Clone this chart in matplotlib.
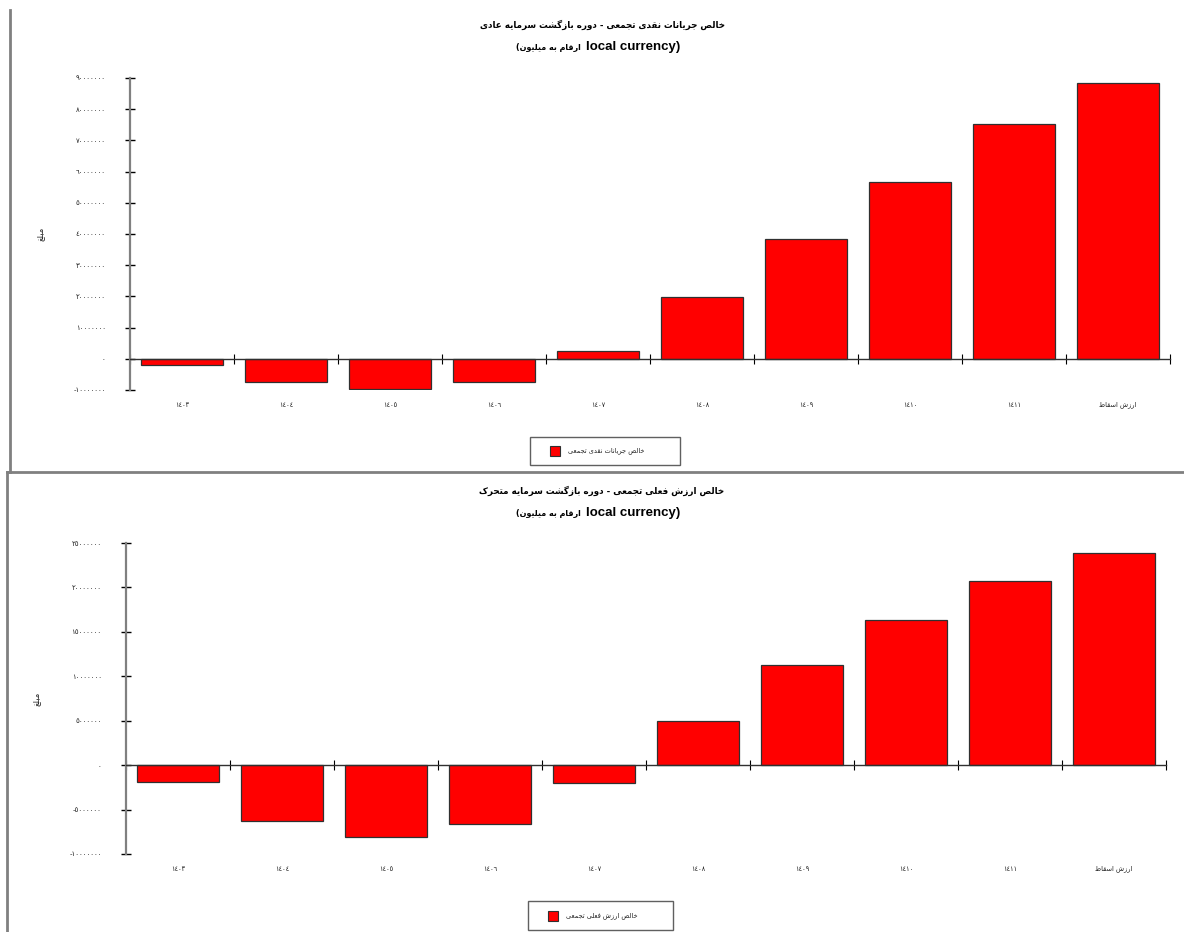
import numpy as np
import matplotlib
matplotlib.use('Agg')
import matplotlib.pyplot as plt
import matplotlib.transforms as mtransforms
from matplotlib.lines import Line2D
from matplotlib.patches import Rectangle

# data (values in local currency)
categories = ['1403', '1404', '1405', '1406', '1407', '1408', '1409', '1410', '1411', 'ارزش اسقاط']
cum_cash_flow = [-1.9e6, -7.3e6, -9.6e6, -7.3e6, 2.5e6, 19.9e6, 38.5e6, 56.7e6, 75.3e6, 88.5e6]
cum_npv = [-1.9e6, -6.3e6, -8.1e6, -6.6e6, -2.0e6, 4.95e6, 11.25e6, 16.3e6, 20.7e6, 23.9e6]

title_top = 'خالص جریانات نقدی تجمعی - دوره بازگشت سرمایه عادی'
title_bottom = 'خالص ارزش فعلی تجمعی - دوره بازگشت سرمایه متحرک'
subtitle_fa = 'ارقام به میلیون'
legend_top = 'خالص جریانات نقدی تجمعی'
legend_bottom = 'خالص ارزش فعلی تجمعی'
ylabel = 'مبلغ'

# simple arabic/persian shaping (matplotlib has no RTL support)
FORMS = {
    'ا': (0xFE8D, 0xFE8E), 'د': (0xFEA9, 0xFEAA), 'ر': (0xFEAD, 0xFEAE),
    'ز': (0xFEAF, 0xFEB0), 'و': (0xFEED, 0xFEEE),
    'ب': (0xFE8F, 0xFE90, 0xFE91, 0xFE92), 'ت': (0xFE95, 0xFE96, 0xFE97, 0xFE98),
    'ج': (0xFE9D, 0xFE9E, 0xFE9F, 0xFEA0), 'ح': (0xFEA1, 0xFEA2, 0xFEA3, 0xFEA4),
    'خ': (0xFEA5, 0xFEA6, 0xFEA7, 0xFEA8), 'س': (0xFEB1, 0xFEB2, 0xFEB3, 0xFEB4),
    'ش': (0xFEB5, 0xFEB6, 0xFEB7, 0xFEB8), 'ص': (0xFEB9, 0xFEBA, 0xFEBB, 0xFEBC),
    'ط': (0xFEC1, 0xFEC2, 0xFEC3, 0xFEC4), 'ع': (0xFEC9, 0xFECA, 0xFECB, 0xFECC),
    'غ': (0xFECD, 0xFECE, 0xFECF, 0xFED0), 'ف': (0xFED1, 0xFED2, 0xFED3, 0xFED4),
    'ق': (0xFED5, 0xFED6, 0xFED7, 0xFED8), 'ل': (0xFEDD, 0xFEDE, 0xFEDF, 0xFEE0),
    'م': (0xFEE1, 0xFEE2, 0xFEE3, 0xFEE4), 'ن': (0xFEE5, 0xFEE6, 0xFEE7, 0xFEE8),
    'ه': (0xFEE9, 0xFEEA, 0xFEEB, 0xFEEC), 'ی': (0xFBFC, 0xFBFD, 0xFBFE, 0xFBFF),
    'ک': (0xFB8E, 0xFB8F, 0xFB90, 0xFB91), 'گ': (0xFB92, 0xFB93, 0xFB94, 0xFB95),
}


def shape(text):
    out = []
    for i, c in enumerate(text):
        if c not in FORMS:
            out.append(c)
            continue
        prev = text[i - 1] if i > 0 else ''
        nxt = text[i + 1] if i + 1 < len(text) else ''
        f = FORMS[c]
        jp = prev in FORMS and len(FORMS[prev]) == 4
        jn = len(f) == 4 and nxt in FORMS
        if jp and jn:
            g = f[3]
        elif jp:
            g = f[1]
        elif jn:
            g = f[2]
        else:
            g = f[0]
        out.append(chr(g))
    return ''.join(out)[::-1]


DIGITS = str.maketrans('0123456789', '٠١٢٣٤٥٦٧٨٩')


def ar_num(v):
    return str(int(round(v))).translate(DIGITS)


def ar_label(s):
    if s.isdigit():
        return s.translate(DIGITS)
    return shape(s)


W, H = 1184, 932
fig = plt.figure(figsize=(W / 100, H / 100), dpi=100)
fig.patch.set_facecolor('white')


def fx(px):
    return px / W


def fy(py):
    return 1 - py / H


def panel(rect, values, yticks, title, legend_text, title_y, legend_box):
    ax = fig.add_axes(rect)
    x = np.arange(len(values))
    ax.bar(x, values, width=0.79, color='#ff0000', edgecolor='#303030', linewidth=0.9, zorder=2)
    ax.set_xlim(-0.5, len(values) - 0.5)
    ax.set_ylim(yticks[0], yticks[-1])
    ax.set_yticks(yticks)
    ax.set_yticklabels([ar_num(t) for t in yticks], fontsize=5, color='#222222')
    ax.tick_params(axis='y', direction='inout', length=7, width=1, color='black', pad=14)
    ax.set_xticks(np.arange(-0.5, len(values), 1))
    ax.set_xticklabels([])
    ax.tick_params(axis='x', direction='inout', length=7, width=0.8, color='black')
    for s in ['top', 'right']:
        ax.spines[s].set_visible(False)
    ax.spines['left'].set_color('#808080')
    ax.spines['left'].set_linewidth(1.6)
    ax.spines['bottom'].set_position(('data', 0))
    ax.spines['bottom'].set_color('#303030')
    ax.spines['bottom'].set_linewidth(1.0)
    ax.spines['bottom'].set_zorder(3)

    trans = mtransforms.blended_transform_factory(ax.transData, ax.transAxes)
    for i, c in enumerate(categories):
        ax.text(i, -0.048, ar_label(c), transform=trans, ha='center', va='center',
                fontsize=4.8, color='#222222')
    ax.text(-0.086, 0.5, shape(ylabel), transform=ax.transAxes, rotation=90,
            ha='center', va='center', fontsize=6, color='#222222')

    fig.text(fx(602), fy(title_y), shape(title), ha='center', va='center',
             fontsize=6.3, fontweight='bold', family='DejaVu Sans')
    fig.text(fx(581), fy(title_y + 22), '(' + shape(subtitle_fa), ha='right', va='center',
             fontsize=5.8, fontweight='bold', family='DejaVu Sans')
    fig.text(fx(586), fy(title_y + 22), 'local currency)', ha='left', va='center',
             fontsize=9.5, fontweight='bold', family='Liberation Sans')

    x0, y0, x1, y1 = legend_box
    fig.add_artist(Rectangle((fx(x0), fy(y1)), fx(x1 - x0), fy(y0) - fy(y1),
                             transform=fig.transFigure, fill=False,
                             edgecolor='#606060', linewidth=1.0))
    ym = (y0 + y1) / 2
    fig.add_artist(Rectangle((fx(x0 + 20), fy(ym + 5)), fx(10), fy(ym - 5) - fy(ym + 5),
                             transform=fig.transFigure, facecolor='#ff0000',
                             edgecolor='#303030', linewidth=0.8))
    fig.text(fx(x0 + 38), fy(ym), shape(legend_text), ha='left', va='center',
             fontsize=4.8, color='#222222')
    return ax


ax1 = panel([fx(130), fy(390), fx(1040), fy(78) - fy(390)], cum_cash_flow,
            np.arange(-1e7, 9.01e7, 1e7), title_top, legend_top, 25, (530, 437, 680, 465))
ax2 = panel([fx(126), fy(854), fx(1040), fy(543) - fy(854)], cum_npv,
            np.arange(-1e7, 2.51e7, 5e6), title_bottom, legend_bottom, 491, (528, 901, 673, 930))

# panel frames
frame = dict(color='#808080', linewidth=2, transform=fig.transFigure)
fig.add_artist(Line2D([fx(10), fx(10)], [fy(10), fy(472)], **frame))
fig.add_artist(Line2D([fx(7), fx(W)], [fy(472), fy(472)], **frame))
fig.add_artist(Line2D([fx(7), fx(7)], [fy(472), fy(H)], **frame))

fig.savefig('out.png', dpi=100)
